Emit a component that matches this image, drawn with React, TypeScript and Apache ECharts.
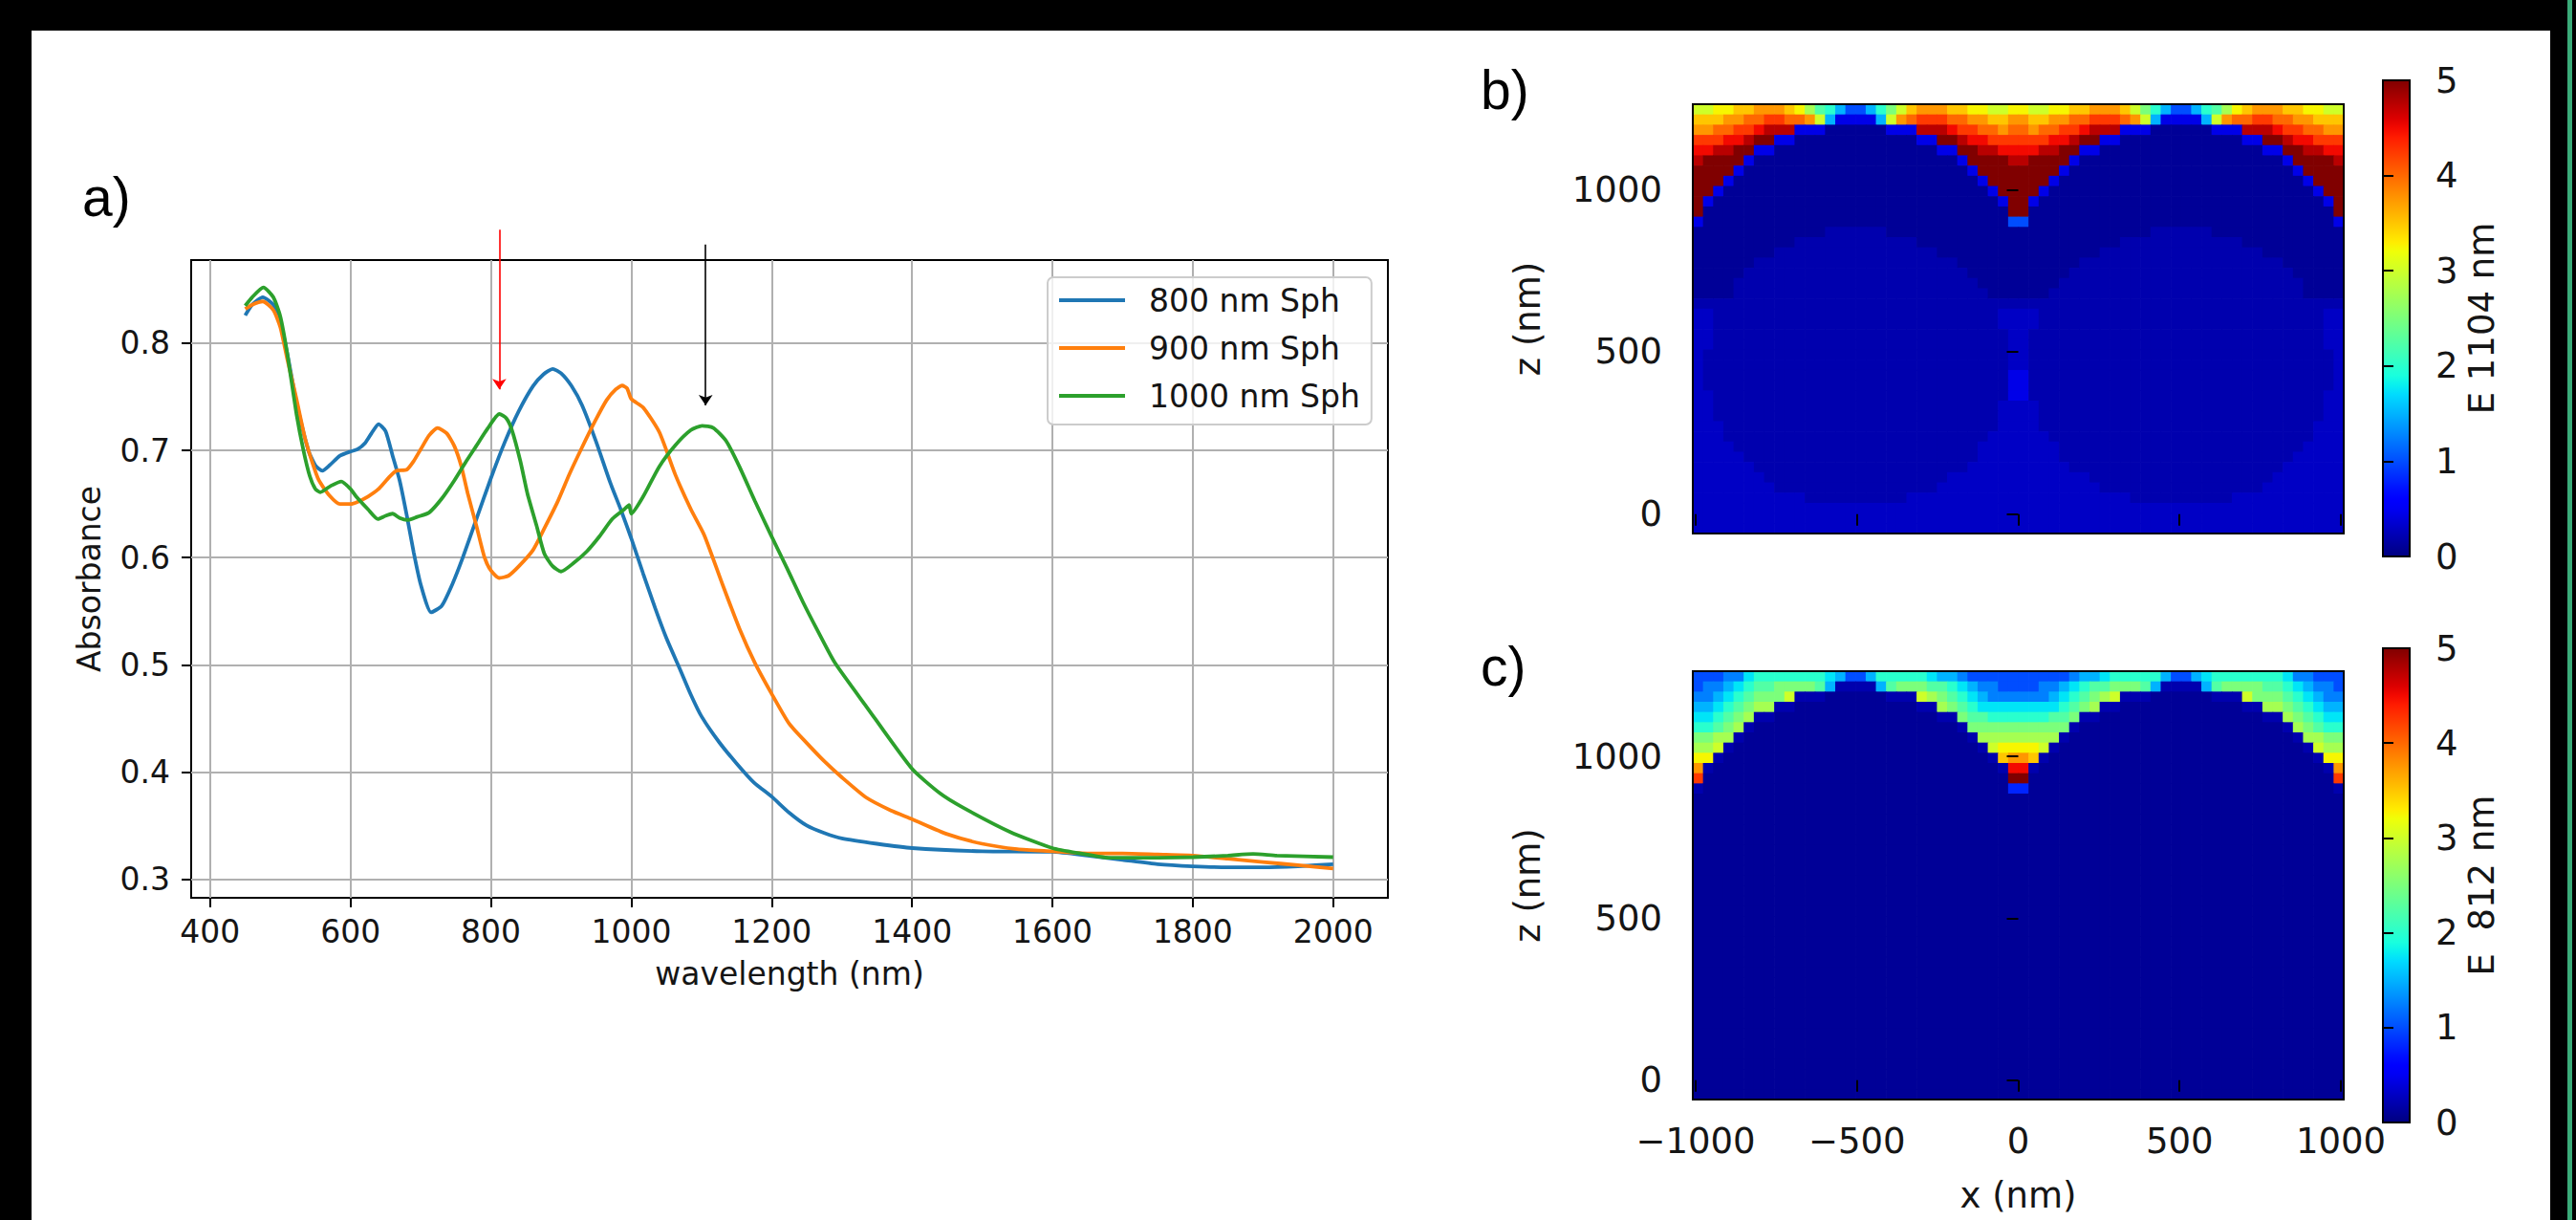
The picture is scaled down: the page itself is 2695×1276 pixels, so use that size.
import React, { useEffect, useRef } from 'react';
import * as echarts from 'echarts';

// ---------------- panel a) absorbance spectra ----------------
const SERIES_NAMES = ['800 nm Sph', '900 nm Sph', '1000 nm Sph'];
const SERIES_COLORS = ['#1f77b4', '#ff7f0e', '#2ca02c'];

const WL_800 = [450, 460, 475, 490, 500, 510, 523, 540, 550, 560, 570, 585, 600, 610, 621, 630, 640, 650, 660, 670, 680, 690, 700, 715, 730, 745, 760, 780, 800, 820, 840, 860, 875, 888, 900, 915, 930, 950, 970, 985, 1000, 1017, 1034, 1050, 1070, 1085, 1100, 1125, 1150, 1175, 1200, 1225, 1250, 1275, 1300, 1350, 1400, 1500, 1600, 1650, 1700, 1750, 1800, 1850, 1900, 1950, 2000];
const ABS_800 = [0.826, 0.836, 0.843, 0.836, 0.820, 0.790, 0.745, 0.700, 0.686, 0.681, 0.686, 0.695, 0.699, 0.701, 0.707, 0.716, 0.7245, 0.718, 0.695, 0.672, 0.640, 0.605, 0.575, 0.549, 0.555, 0.575, 0.600, 0.637, 0.674, 0.708, 0.737, 0.760, 0.771, 0.776, 0.772, 0.760, 0.742, 0.708, 0.670, 0.645, 0.618, 0.585, 0.553, 0.525, 0.495, 0.472, 0.452, 0.428, 0.408, 0.390, 0.377, 0.362, 0.350, 0.343, 0.338, 0.333, 0.329, 0.326, 0.3255, 0.322, 0.318, 0.314, 0.312, 0.311, 0.311, 0.312, 0.314];

const WL_900 = [450, 460, 475, 490, 500, 510, 523, 535, 545, 555, 570, 585, 600, 610, 625, 640, 655, 665, 680, 690, 700, 712, 724, 737, 748, 758, 767, 780, 791, 800, 812, 825, 840, 860, 876, 895, 912, 930, 949, 965, 978, 987, 994, 1000, 1017, 1040, 1063, 1085, 1104, 1130, 1154, 1176, 1200, 1225, 1250, 1275, 1300, 1335, 1370, 1400, 1450, 1500, 1550, 1600, 1650, 1700, 1750, 1800, 1850, 1900, 1950, 2000];
const ABS_900 = [0.832, 0.836, 0.839, 0.831, 0.815, 0.785, 0.748, 0.712, 0.690, 0.672, 0.658, 0.650, 0.650, 0.652, 0.657, 0.664, 0.675, 0.681, 0.682, 0.690, 0.701, 0.714, 0.721, 0.716, 0.704, 0.685, 0.660, 0.628, 0.600, 0.588, 0.581, 0.583, 0.592, 0.607, 0.627, 0.652, 0.678, 0.703, 0.728, 0.747, 0.757, 0.7605, 0.758, 0.748, 0.740, 0.717, 0.677, 0.645, 0.621, 0.575, 0.534, 0.502, 0.473, 0.445, 0.427, 0.410, 0.395, 0.376, 0.364, 0.356, 0.342, 0.333, 0.328, 0.326, 0.324, 0.324, 0.323, 0.322, 0.319, 0.316, 0.313, 0.310];

const WL_1000 = [450, 460, 476, 490, 500, 510, 523, 533, 542, 550, 557, 572, 587, 600, 608, 625, 639, 650, 660, 670, 681, 695, 712, 730, 748, 765, 779, 795, 812, 822, 830, 842, 852, 865, 876, 888, 900, 918, 937, 955, 973, 990, 997, 1000, 1017, 1040, 1063, 1085, 1101, 1117, 1135, 1154, 1176, 1199, 1222, 1245, 1267, 1290, 1335, 1400, 1440, 1472, 1540, 1600, 1640, 1680, 1750, 1800, 1850, 1886, 1920, 2000];
const ABS_1000 = [0.835, 0.843, 0.852, 0.843, 0.825, 0.790, 0.734, 0.700, 0.676, 0.664, 0.661, 0.667, 0.671, 0.664, 0.657, 0.645, 0.636, 0.639, 0.641, 0.637, 0.635, 0.638, 0.642, 0.655, 0.672, 0.690, 0.704, 0.720, 0.734, 0.730, 0.719, 0.690, 0.660, 0.630, 0.604, 0.592, 0.587, 0.595, 0.606, 0.620, 0.636, 0.645, 0.649, 0.641, 0.657, 0.685, 0.705, 0.719, 0.723, 0.721, 0.709, 0.685, 0.653, 0.621, 0.590, 0.558, 0.530, 0.502, 0.461, 0.403, 0.380, 0.367, 0.344, 0.329, 0.324, 0.320, 0.320, 0.3205, 0.322, 0.3235, 0.322, 0.3205];

const WL_TICKS = [400, 600, 800, 1000, 1200, 1400, 1600, 1800, 2000];
const ABS_TICKS = [0.3, 0.4, 0.5, 0.6, 0.7, 0.8];
const WL_RANGE = [373, 2078];
const ABS_RANGE = [0.2826, 0.8776];

const ARROW_812 = [[812, 0.906], [812, 0.757]];
const ARROW_1104 = [[1106, 0.892], [1106, 0.742]];

// ---------------- panels b) c) field maps ----------------
const X_NM_TICKS = [-1000, -500, 0, 500, 1000];
const Z_NM_TICKS = [0, 500, 1000];
const X_NM_RANGE = [-1009, 1009];
const Z_NM_RANGE = [-60, 1263];
const E_TICKS = [0, 1, 2, 3, 4, 5];
const E_RANGE = [0, 5];
const FIELD_LABELS = ['E 1104 nm', 'E  812 nm'];

// one character per cell -> |E|
const FIELD_LEVELS: Record<string, number> = {
  a: 0.1, b: 0.2, c: 0.3, d: 0.45, e: 0.6, f: 0.8, g: 1.0, h: 1.25, i: 1.5, j: 1.75,
  k: 2.0, l: 2.25, m: 2.5, n: 2.75, o: 3.0, p: 3.25, q: 3.5, r: 3.75, s: 4.0, t: 4.25,
  u: 4.5, v: 4.75, w: 5.0,
};

// rows from top (z = 1263) to bottom (z = -60), columns from x = -1009 to 1009
const FIELD_1104 = [
  'ooppqqrr rqpnlkig gikmoqrr rqqppoop pooppqqr rrqomkig giklnpqr rrqqppoo',
  'qqqrrsst tssroidd ddiorstt tssrrqqr rqqrrsst ttsroidd ddiorsst tssrrqqq',
  'rrssttuv vvdddaaa aaadddvv vuttssrs srssttuv vvdddaaa aaadddvv vuttssrr',
  'tttuuvww ddaaaaaa aaaaaadd wwvuuttt tttuuvww ddaaaaaa aaaaaadd wwvuuttt',
  'uuvvwwdd aaaaaaaa aaaaaaaa ddwwvvuu uuvvwwdd aaaaaaaa aaaaaaaa ddwwvvuu',
  'vwwwwdaa aaaaaaaa aaaaaaaa aadwwwwv vwwwwdaa aaaaaaaa aaaaaaaa aadwwwwv',
  'wwwwdaaa aaaaaaaa aaaaaaaa aaadwwww wwwwdaaa aaaaaaaa aaaaaaaa aaadwwww',
  'wwwdaaaa aaaaaaaa aaaaaaaa aaaadwww wwwdaaaa aaaaaaaa aaaaaaaa aaaadwww',
  'wwdaaaaa aaaaaaaa aaaaaaaa aaaaadww wwdaaaaa aaaaaaaa aaaaaaaa aaaaadww',
  'wdaaaaaa aaaaaaaa aaaaaaaa aaaaaadw wdaaaaaa aaaaaaaa aaaaaaaa aaaaaadw',
  'waaaaaaa aaaaaaaa aaaaaaaa aaaaaaaw waaaaaaa aaaaaaaa aaaaaaaa aaaaaaaw',
  'daaaaaaa aaaaaaaa aaaaaaaa aaaaaaag gaaaaaaa aaaaaaaa aaaaaaaa aaaaaaad',
  'aaaaaaaa aaaaabbb bbbaaaaa aaaaaaaa aaaaaaaa aaaaabbb bbbaaaaa aaaaaaaa',
  'aaaaaaaa aabbbbbb bbbbbbaa aaaaaaaa aaaaaaaa aabbbbbb bbbbbbaa aaaaaaaa',
  'aaaaaaaa bbbbbbbb bbbbbbbb aaaaaaaa aaaaaaaa bbbbbbbb bbbbbbbb aaaaaaaa',
  'aaaaaabb bbbbbbbb bbbbbbbb bbaaaaaa aaaaaabb bbbbbbbb bbbbbbbb bbaaaaaa',
  'aaaaabbb bbbbbbbb bbbbbbbb bbbaaaaa aaaaabbb bbbbbbbb bbbbbbbb bbbaaaaa',
  'aaaabbbb bbbbbbbb bbbbbbbb bbbbaaaa aaaabbbb bbbbbbbb bbbbbbbb bbbbaaaa',
  'aaaabbbb bbbbbbbb bbbbbbbb bbbbbaaa aaabbbbb bbbbbbbb bbbbbbbb bbbbaaaa',
  'bbbbbbbb bbbbbbbb bbbbbbbb bbbbbbbb bbbbbbbb bbbbbbbb bbbbbbbb bbbbbbbb',
  'ccbbbbbb bbbbbbbb bbbbbbbb bbbbbbcc ccbbbbbb bbbbbbbb bbbbbbbb bbbbbbcc',
  'ccbbbbbb bbbbbbbb bbbbbbbb bbbbbbcc ccbbbbbb bbbbbbbb bbbbbbbb bbbbbbcc',
  'ccbbbbbb bbbbbbbb bbbbbbbb bbbbbbbc cbbbbbbb bbbbbbbb bbbbbbbb bbbbbbcc',
  'ccbbbbbb bbbbbbbb bbbbbbbb bbbbbbbc cbbbbbbb bbbbbbbb bbbbbbbb bbbbbbcc',
  'cbbbbbbb bbbbbbbb bbbbbbbb bbbbbbbc cbbbbbbb bbbbbbbb bbbbbbbb bbbbbbbc',
  'cbbbbbbb bbbbbbbb bbbbbbbb bbbbbbbc cbbbbbbb bbbbbbbb bbbbbbbb bbbbbbbc',
  'cbbbbbbb bbbbbbbb bbbbbbbb bbbbbbbd dbbbbbbb bbbbbbbb bbbbbbbb bbbbbbbc',
  'cbbbbbbb bbbbbbbb bbbbbbbb bbbbbbbd dbbbbbbb bbbbbbbb bbbbbbbb bbbbbbbc',
  'ccbbbbbb bbbbbbbb bbbbbbbb bbbbbbbd dbbbbbbb bbbbbbbb bbbbbbbb bbbbbbcc',
  'ccbbbbbb bbbbbbbb bbbbbbbb bbbbbbcc ccbbbbbb bbbbbbbb bbbbbbbb bbbbbbcc',
  'ccbbbbbb bbbbbbbb bbbbbbbb bbbbbbcc ccbbbbbb bbbbbbbb bbbbbbbb bbbbbbcc',
  'cccbbbbb bbbbbbbb bbbbbbbb bbbbbbcc ccbbbbbb bbbbbbbb bbbbbbbb bbbbbccc',
  'cccbbbbb bbbbbbbb bbbbbbbb bbbbbccc cccbbbbb bbbbbbbb bbbbbbbb bbbbbccc',
  'ccccbbbb bbbbbbbb bbbbbbbb bbbbcccc ccccbbbb bbbbbbbb bbbbbbbb bbbbcccc',
  'cccccbbb bbbbbbbb bbbbbbbb bbbbcccc ccccbbbb bbbbbbbb bbbbbbbb bbbccccc',
  'ccccccbb bbbbbbbb bbbbbbbb bbbccccc cccccbbb bbbbbbbb bbbbbbbb bbcccccc',
  'cccccccb bbbbbbbb bbbbbbbb bccccccc cccccccb bbbbbbbb bbbbbbbb bccccccc',
  'cccccccc bbbbbbbb bbbbbbbb cccccccc cccccccc bbbbbbbb bbbbbbbb cccccccc',
  'cccccccc cccbbbbb bbbbbccc cccccccc cccccccc cccbbbbb bbbbbccc cccccccc',
  'cccccccc cccccccc cccccccc cccccccc cccccccc cccccccc cccccccc cccccccc',
  'cccccccc cccccccc cccccccc cccccccc cccccccc cccccccc cccccccc cccccccc',
  'cccccccc cccccccc cccccccc cccccccc cccccccc cccccccc cccccccc cccccccc',
];

const ROW_NAVY = 'aaaaaaaa aaaaaaaa aaaaaaaa aaaaaaaa aaaaaaaa aaaaaaaa aaaaaaaa aaaaaaaa';
const FIELD_812 = [
  'ggghhjkk kkkkkjig gikkkkkj iihggggg ggggghii jkkkkkig gijkkkkk kkjhhggg',
  'ghhijkll mmmmlibb bbilmmml lkjihhgg gghhijkl lmmmlibb bbilmmmm llkjihhg',
  'hhijklmm mobbbaaa aaabbbon mlkjihhh hhhijklm nobbbaaa aaabbbom mmlkjihh',
  'iijklmnn bbaaaaaa aaaaaabb nmlkjjjj jjjjklmn bbaaaaaa aaaaaabb nnmlkjii',
  'jjklmnbb aaaaaaaa aaaaaaaa bbmllkkk kkkllmbb aaaaaaaa aaaaaaaa bbnmlkjj',
  'kklmnbaa aaaaaaaa aaaaaaaa aabmmmmm mmmmmbaa aaaaaaaa aaaaaaaa aabnmlkk',
  'mmnnbaaa aaaaaaaa aaaaaaaa aaabnnnn nnnnbaaa aaaaaaaa aaaaaaaa aaabnnmm',
  'nnobaaaa aaaaaaaa aaaaaaaa aaaabopp ppobaaaa aaaaaaaa aaaaaaaa aaaabonn',
  'ppbaaaaa aaaaaaaa aaaaaaaa aaaaabqr rqbaaaaa aaaaaaaa aaaaaaaa aaaaabpp',
  'rbaaaaaa aaaaaaaa aaaaaaaa aaaaaabu ubaaaaaa aaaaaaaa aaaaaaaa aaaaaabr',
  'taaaaaaa aaaaaaaa aaaaaaaa aaaaaaaw waaaaaaa aaaaaaaa aaaaaaaa aaaaaaat',
  'baaaaaaa aaaaaaaa aaaaaaaa aaaaaaaf faaaaaaa aaaaaaaa aaaaaaaa aaaaaaab',
  ROW_NAVY, ROW_NAVY, ROW_NAVY, ROW_NAVY, ROW_NAVY, ROW_NAVY, ROW_NAVY, ROW_NAVY, ROW_NAVY, ROW_NAVY,
  ROW_NAVY, ROW_NAVY, ROW_NAVY, ROW_NAVY, ROW_NAVY, ROW_NAVY, ROW_NAVY, ROW_NAVY, ROW_NAVY, ROW_NAVY,
  ROW_NAVY, ROW_NAVY, ROW_NAVY, ROW_NAVY, ROW_NAVY, ROW_NAVY, ROW_NAVY, ROW_NAVY, ROW_NAVY, ROW_NAVY,
];

// ---------------- styling helpers ----------------
const FONT = "'DejaVu Sans', 'Noto Sans', sans-serif";
const LABEL_FONT = "'Liberation Sans', Arial, sans-serif";
const TXT = '#151515';

const JET_R = [[0, 0], [0.35, 0], [0.66, 1], [0.89, 1], [1, 0.5]];
const JET_G = [[0, 0], [0.125, 0], [0.375, 1], [0.64, 1], [0.91, 0], [1, 0]];
const JET_B = [[0, 0.5], [0.11, 1], [0.34, 1], [0.65, 0], [1, 0]];
function seg(pts: number[][], t: number) {
  for (let k = 1; k < pts.length; k++) {
    if (t <= pts[k][0]) {
      const [x0, y0] = pts[k - 1];
      const [x1, y1] = pts[k];
      return y0 + ((y1 - y0) * (t - x0)) / (x1 - x0);
    }
  }
  return pts[pts.length - 1][1];
}
function jet(t: number) {
  const u = Math.max(0, Math.min(1, t));
  return `rgb(${Math.round(255 * seg(JET_R, u))},${Math.round(255 * seg(JET_G, u))},${Math.round(255 * seg(JET_B, u))})`;
}

const plainFmt = (v: number) => String(v).replace('-', '\u2212');

function fieldSeries(rows: string[], axisIndex: number) {
  const grid = rows.map((r) => r.replace(/ /g, ''));
  const nr = grid.length;
  const nc = grid[0].length;
  const cw = (X_NM_RANGE[1] - X_NM_RANGE[0]) / nc;
  const rh = (Z_NM_RANGE[1] - Z_NM_RANGE[0]) / nr;
  const data: number[][] = [];
  grid.forEach((s, r) => {
    for (let i = 0; i < s.length; i++) {
      data.push([X_NM_RANGE[0] + (i + 0.5) * cw, Z_NM_RANGE[1] - (r + 0.5) * rh, FIELD_LEVELS[s[i]] ?? 0]);
    }
  });
  return {
    type: 'custom',
    xAxisIndex: axisIndex,
    yAxisIndex: axisIndex,
    data,
    clip: true,
    silent: true,
    z: -1,
    progressive: 0,
    encode: { x: 0, y: 1 },
    renderItem: (_p: any, api: any) => {
      const x = api.value(0);
      const z = api.value(1);
      const v = api.value(2);
      const p0 = api.coord([x - cw / 2, z + rh / 2]);
      const p1 = api.coord([x + cw / 2, z - rh / 2]);
      return {
        type: 'rect',
        shape: { x: p0[0], y: p0[1], width: p1[0] - p0[0] + 0.7, height: p1[1] - p0[1] + 0.7 },
        style: { fill: jet(v / E_RANGE[1]) },
      };
    },
  };
}

function colorbarSeries(axisIndex: number) {
  const stops = [];
  for (let k = 0; k <= 50; k++) stops.push({ offset: k / 50, color: jet(k / 50) });
  return {
    type: 'custom',
    xAxisIndex: axisIndex,
    yAxisIndex: axisIndex,
    data: [[0, E_RANGE[0]], [1, E_RANGE[1]]],
    silent: true,
    z: -1,
    encode: { x: 0, y: 1 },
    renderItem: (p: any, api: any) => {
      if (p.dataIndex !== 0) return null;
      const a = api.coord([0, E_RANGE[1]]);
      const b = api.coord([1, E_RANGE[0]]);
      return {
        type: 'rect',
        shape: { x: a[0], y: a[1], width: b[0] - a[0], height: b[1] - a[1] },
        style: { fill: new echarts.graphic.LinearGradient(0, 1, 0, 0, stops) },
      };
    },
  };
}

const tickStyle = { color: '#000', width: 2 };
const frame = { show: true, borderColor: '#000', borderWidth: 2, backgroundColor: 'transparent', containLabel: false, outerBoundsMode: 'none' };

function buildOption() {
  const lineData = [
    WL_800.map((x, i) => [x, ABS_800[i]]),
    WL_900.map((x, i) => [x, ABS_900[i]]),
    WL_1000.map((x, i) => [x, ABS_1000[i]]),
  ];
  const heatFont = { fontSize: 37, color: TXT, fontFamily: FONT };
  const aFont = { fontSize: 33, color: TXT, fontFamily: FONT };

  const heatX = (gi: number, labels: boolean) => ({
    type: 'value', gridIndex: gi, min: X_NM_RANGE[0], max: X_NM_RANGE[1],
    axisLine: { show: false }, splitLine: { show: false },
    axisTick: { show: true, inside: false, length: 12, lineStyle: tickStyle, customValues: X_NM_TICKS },
    axisLabel: { show: labels, customValues: X_NM_TICKS, margin: 25, formatter: plainFmt, ...heatFont },
    name: labels ? 'x (nm)' : '', nameLocation: 'middle', nameGap: 82, nameTextStyle: heatFont,
  });
  const heatY = (gi: number) => ({
    type: 'value', gridIndex: gi, min: Z_NM_RANGE[0], max: Z_NM_RANGE[1],
    axisLine: { show: false }, splitLine: { show: false },
    axisTick: { show: true, inside: false, length: 12, lineStyle: tickStyle, customValues: Z_NM_TICKS },
    axisLabel: { customValues: Z_NM_TICKS, margin: 32, formatter: plainFmt, ...heatFont },
    name: 'z (nm)', nameLocation: 'middle', nameRotate: 90, nameGap: 154, nameTextStyle: heatFont,
  });
  const cbX = (gi: number) => ({ type: 'value', gridIndex: gi, min: 0, max: 1, show: false });
  const cbY = (gi: number, name: string) => ({
    type: 'value', gridIndex: gi, position: 'right', min: E_RANGE[0], max: E_RANGE[1], interval: 1,
    axisLine: { show: false }, splitLine: { show: false },
    axisTick: { show: true, inside: false, length: 11, lineStyle: tickStyle, customValues: E_TICKS },
    axisLabel: { margin: 27, customValues: E_TICKS, formatter: plainFmt, ...heatFont },
    name, nameLocation: 'middle', nameRotate: 90, nameGap: 57, nameTextStyle: heatFont,
  });

  return {
    animation: false,
    backgroundColor: '#000',
    textStyle: { fontFamily: FONT },
    graphic: [
      { type: 'rect', z: -10, shape: { x: 33, y: 32, width: 2635, height: 1244 }, style: { fill: '#fff' }, silent: true },
      { type: 'rect', z: -10, shape: { x: 2686, y: 0, width: 5, height: 1276 }, style: { fill: '#3aaa78' }, silent: true },
      { type: 'text', z: 50, x: 86, y: 206, style: { text: 'a)', fontSize: 57, fontFamily: LABEL_FONT, fill: '#000', verticalAlign: 'middle' } },
      { type: 'text', z: 50, x: 1549, y: 94, style: { text: 'b)', fontSize: 57, fontFamily: LABEL_FONT, fill: '#000', verticalAlign: 'middle' } },
      { type: 'text', z: 50, x: 1549, y: 697, style: { text: 'c)', fontSize: 57, fontFamily: LABEL_FONT, fill: '#000', verticalAlign: 'middle' } },
    ],
    grid: [
      { left: 200, top: 272, width: 1252, height: 667, ...frame },
      { left: 1771, top: 109, width: 681, height: 449, ...frame },
      { left: 1771, top: 702, width: 681, height: 448, ...frame },
      { left: 2493, top: 84, width: 28, height: 498, ...frame },
      { left: 2493, top: 678, width: 28, height: 496, ...frame },
    ],
    legend: {
      data: SERIES_NAMES,
      orient: 'vertical',
      left: 1096,
      top: 290,
      icon: 'rect',
      itemWidth: 69,
      itemHeight: 4,
      itemGap: 14,
      padding: [6, 12, 12, 12],
      backgroundColor: 'rgba(255,255,255,0.8)',
      borderColor: '#cccccc',
      borderWidth: 2,
      borderRadius: 6,
      selectedMode: false,
      textStyle: { ...aFont, lineHeight: 36, padding: [0, 0, 0, 20] },
    },
    xAxis: [
      {
        type: 'value', gridIndex: 0, min: WL_RANGE[0], max: WL_RANGE[1],
        axisLine: { show: false },
        axisTick: { show: true, inside: false, length: 10, lineStyle: tickStyle, customValues: WL_TICKS },
        axisLabel: { customValues: WL_TICKS, margin: 19, formatter: plainFmt, ...aFont },
        splitLine: { show: true, lineStyle: { color: '#b0b0b0', width: 2 } },
        name: 'wavelength (nm)', nameLocation: 'middle', nameGap: 63, nameTextStyle: aFont,
      },
      heatX(1, false),
      heatX(2, true),
      cbX(3),
      cbX(4),
    ],
    yAxis: [
      {
        type: 'value', gridIndex: 0, min: ABS_RANGE[0], max: ABS_RANGE[1],
        axisLine: { show: false },
        axisTick: { show: true, inside: false, length: 10, lineStyle: tickStyle, customValues: ABS_TICKS },
        axisLabel: { customValues: ABS_TICKS, margin: 22, formatter: (v: number) => v.toFixed(1), ...aFont },
        splitLine: { show: true, lineStyle: { color: '#b0b0b0', width: 2 } },
        name: 'Absorbance', nameLocation: 'middle', nameRotate: 90, nameGap: 90, nameTextStyle: aFont,
      },
      heatY(1),
      heatY(2),
      cbY(3, FIELD_LABELS[0]),
      cbY(4, FIELD_LABELS[1]),
    ],
    series: [
      ...SERIES_NAMES.map((name, k) => ({
        type: 'line', name, xAxisIndex: 0, yAxisIndex: 0, data: lineData[k],
        symbol: 'none', smooth: 0.2, z: 3, silent: true,
        lineStyle: { width: 3.8, color: SERIES_COLORS[k] },
        itemStyle: { color: SERIES_COLORS[k] },
      })),
      {
        type: 'lines', coordinateSystem: 'cartesian2d', xAxisIndex: 0, yAxisIndex: 0, clip: false, silent: true,
        progressive: 0, z: 5, symbol: ['none', 'arrow'], symbolSize: 11,
        lineStyle: { color: '#ff0000', width: 1.6, opacity: 1 },
        data: [{ coords: ARROW_812 }],
      },
      {
        type: 'lines', coordinateSystem: 'cartesian2d', xAxisIndex: 0, yAxisIndex: 0, clip: false, silent: true,
        progressive: 0, z: 5, symbol: ['none', 'arrow'], symbolSize: 11,
        lineStyle: { color: '#000000', width: 1.6, opacity: 1 },
        data: [{ coords: ARROW_1104 }],
      },
      fieldSeries(FIELD_1104, 1),
      fieldSeries(FIELD_812, 2),
      colorbarSeries(3),
      colorbarSeries(4),
    ],
  };
}

export default function App() {
  const ref = useRef<HTMLDivElement>(null);
  useEffect(() => {
    if (!ref.current) return;
    const chart = echarts.init(ref.current, null, { renderer: 'svg' });
    chart.setOption(buildOption() as any);
    return () => chart.dispose();
  }, []);
  return <div ref={ref} style={{ position: 'fixed', left: 0, top: 0, width: 2695, height: 1276 }} />;
}
